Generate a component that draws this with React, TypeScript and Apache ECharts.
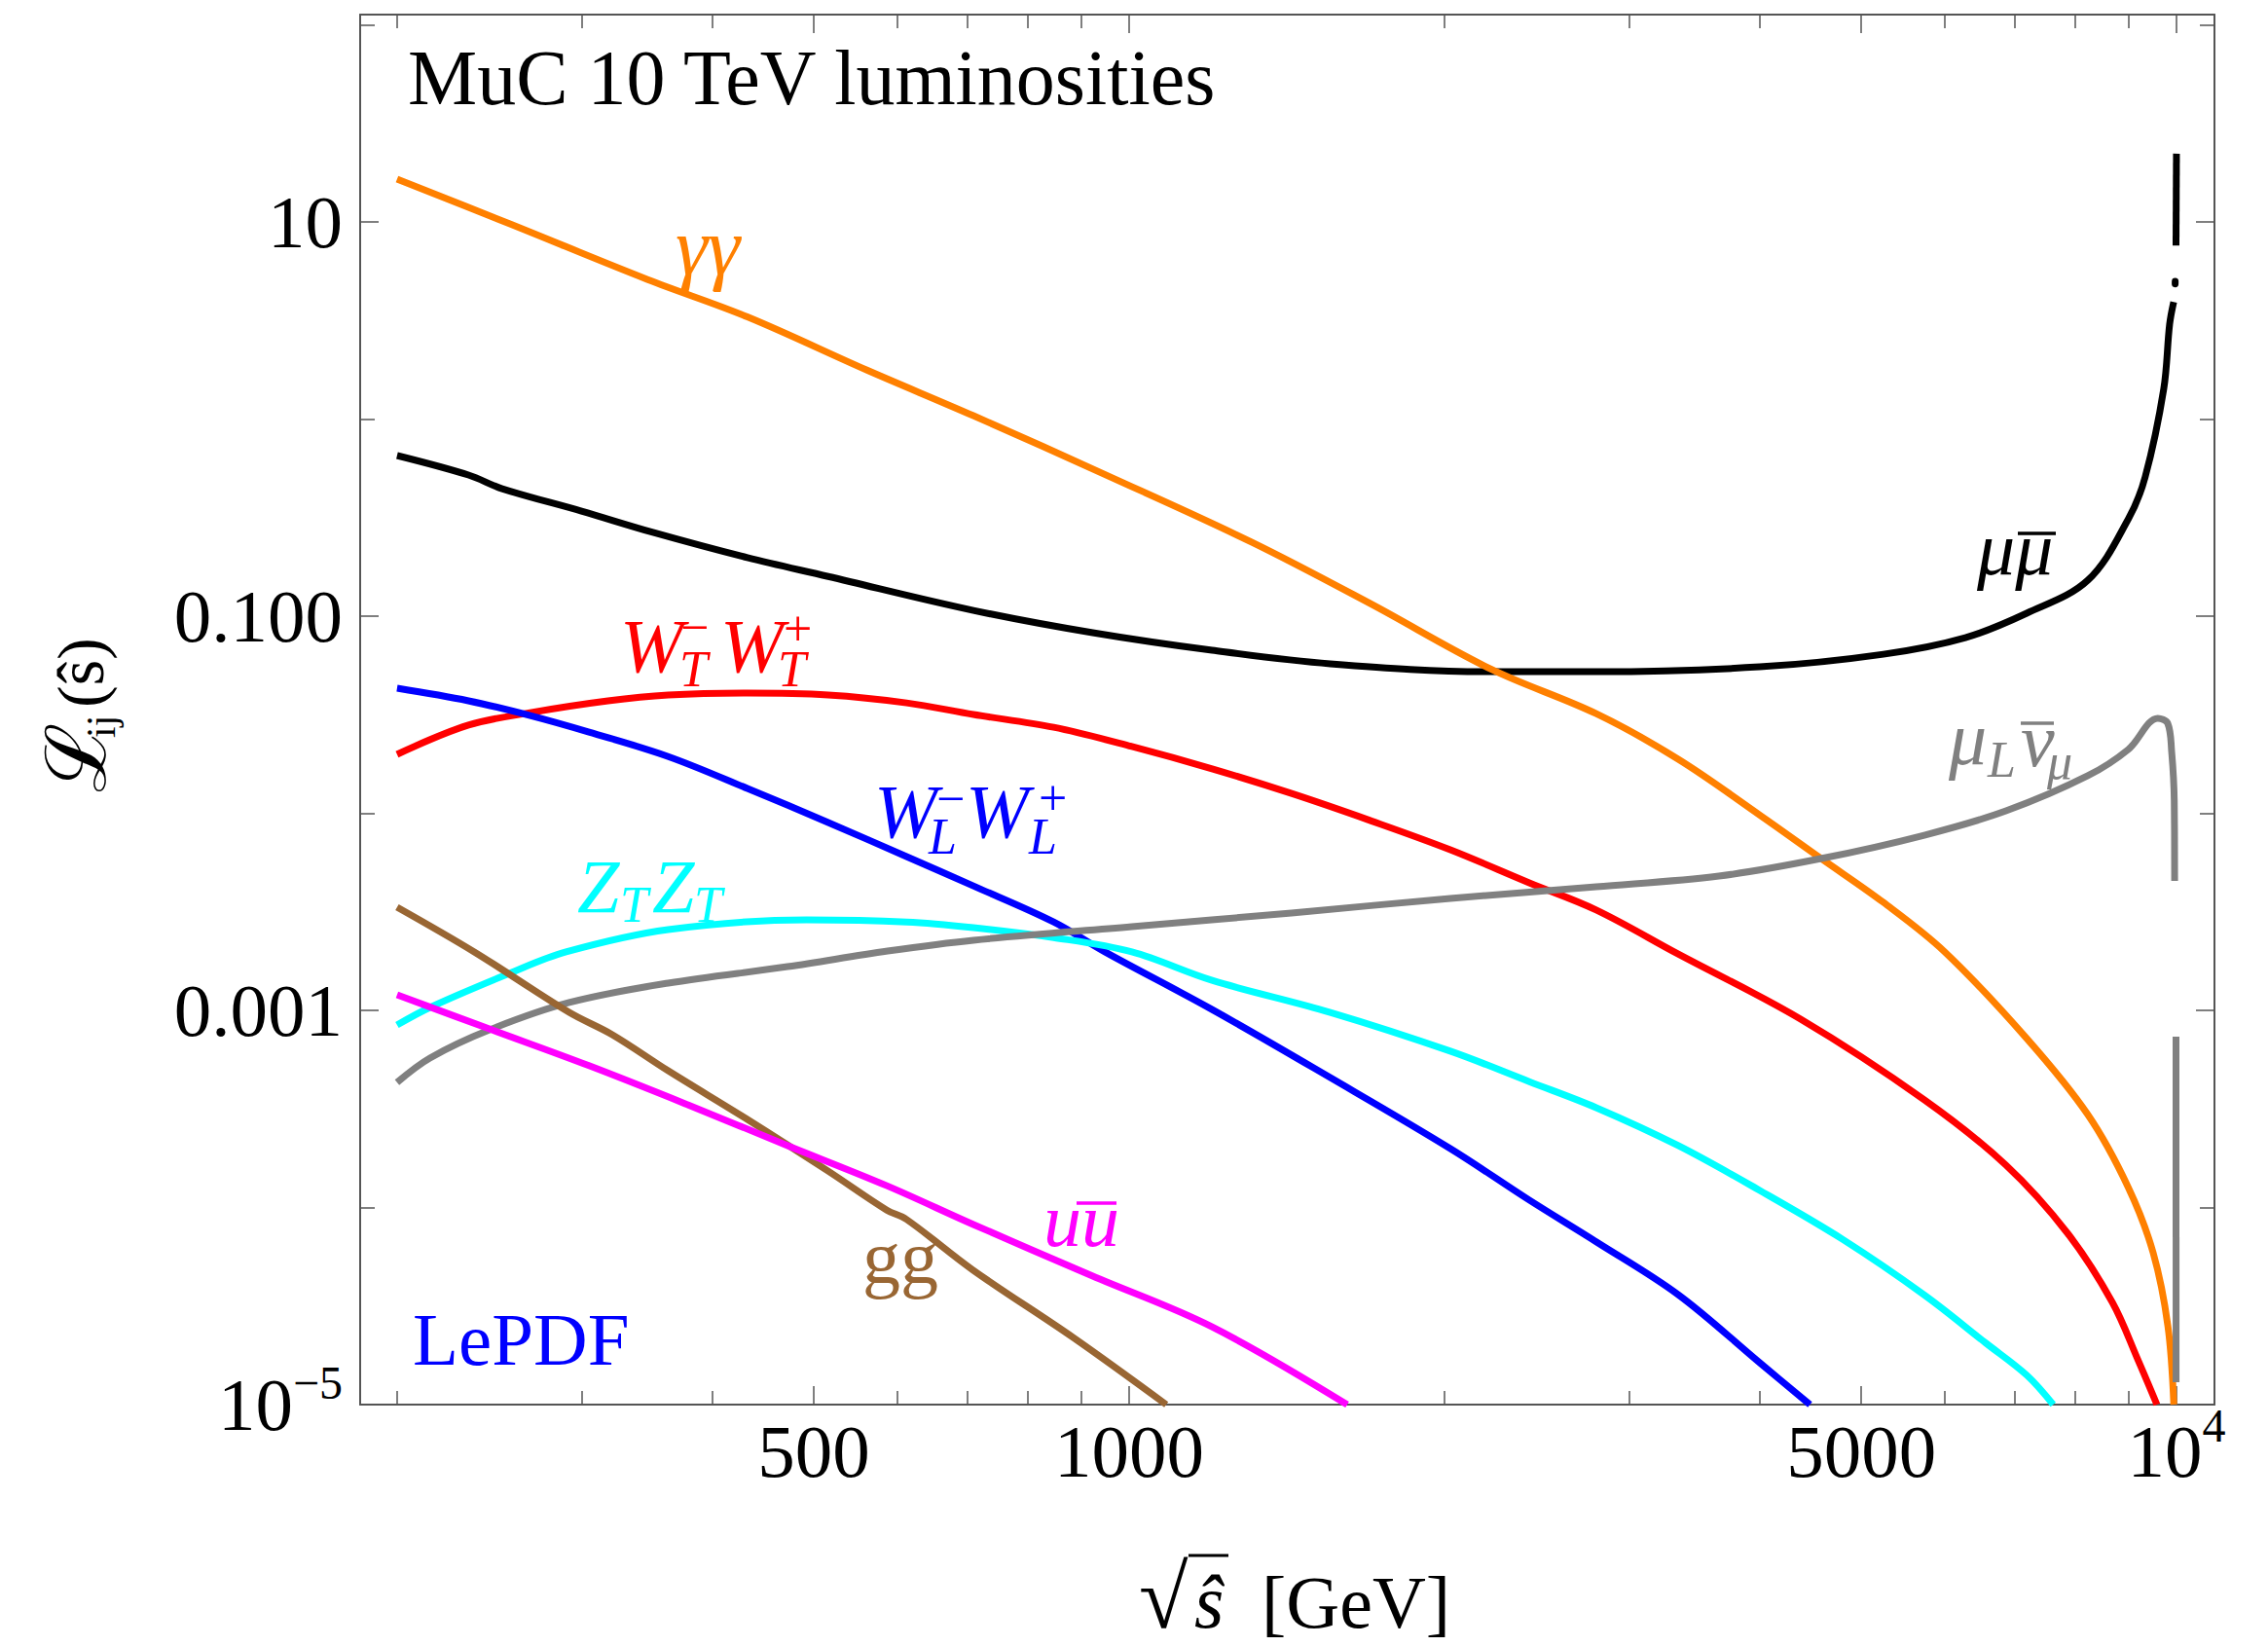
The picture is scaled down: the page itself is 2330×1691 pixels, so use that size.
import React, { useEffect, useRef } from 'react';
import * as echarts from 'echarts';

// ---------- data (sqrt(s) in GeV, luminosity values) ----------
const gammaX = [200, 256, 347, 432, 562, 710, 960, 1310, 1698, 2213, 2792, 3344, 4000, 4577, 5250, 6008, 7194, 8227, 8996, 9498, 9812, 9940];
const gammaY = [16.5, 9.8, 5.1, 3.3, 1.77, 1.04, 0.508, 0.237, 0.116, 0.054, 0.032, 0.0188, 0.0098, 0.0059, 0.00353, 0.00198, 0.00072, 0.000296, 0.000126, 5.9e-5, 2.5e-5, 1e-5];

const muMuX = [200, 234, 252, 300, 351, 432, 516, 710, 923, 1200, 1556, 2212, 2792, 4000, 5250, 6286, 7194, 8227, 8996, 9333, 9722, 9849, 9937];
const muMuY = [0.653, 0.52, 0.443, 0.341, 0.266, 0.198, 0.159, 0.107, 0.0824, 0.0671, 0.0573, 0.0523, 0.0523, 0.0553, 0.0641, 0.0778, 0.1035, 0.152, 0.312, 0.508, 1.42, 3.03, 3.93];
const muMuDotX = [9969, 9970];
const muMuDotY = [4.85, 5.0];
const muMuTopX = [9988, 9998];
const muMuTopY = [7.6, 22.2];

const wtX = [200, 234, 268, 318, 363, 432, 516, 613, 710, 847, 1006, 1200, 1429, 1698, 2026, 2410, 2792, 3344, 4376, 5743, 6873, 7870, 8684, 9185, 9578];
const wtY = [0.0199, 0.028, 0.0324, 0.0372, 0.0398, 0.0407, 0.0398, 0.0363, 0.0317, 0.0273, 0.0218, 0.0168, 0.0126, 0.0092, 0.00653, 0.00444, 0.00323, 0.00193, 0.000903, 0.000352, 0.000164, 7.4e-5, 3.3e-5, 1.69e-5, 1e-5];

const wlX = [200, 234, 268, 305, 363, 432, 516, 613, 710, 847, 948, 1200, 1556, 2026, 2410, 2792, 3344, 4000, 4467];
const wlY = [0.0431, 0.0372, 0.0313, 0.0258, 0.0194, 0.01336, 0.00898, 0.00603, 0.00428, 0.00281, 0.00198, 0.00101, 0.000456, 0.000199, 0.000109, 6.7e-5, 3.61e-5, 1.63e-5, 1e-5];

const ztX = [200, 215, 256, 290, 363, 492, 613, 710, 847, 1006, 1200, 1556, 2026, 2410, 2792, 3344, 4000, 4798, 5743, 6577, 7194, 7625];
const ztY = [0.000843, 0.001035, 0.00154, 0.00198, 0.00257, 0.00288, 0.00281, 0.00263, 0.00234, 0.00198, 0.00142, 0.000977, 0.000621, 0.000435, 0.000321, 0.000206, 0.000122, 6.9e-5, 3.6e-5, 2.05e-5, 1.41e-5, 1e-5];

const muNuX = [200, 215, 245, 292, 363, 472, 588, 710, 1006, 1429, 2026, 2792, 3656, 4577, 5743, 6873, 8227, 8996, 9596, 9808, 9894, 9950, 9958];
const muNuY = [0.000431, 0.000573, 0.000796, 0.001096, 0.001375, 0.001667, 0.0020, 0.00227, 0.00266, 0.00312, 0.0037, 0.00424, 0.0048, 0.00589, 0.00774, 0.01028, 0.0155, 0.0211, 0.0303, 0.0286, 0.0204, 0.01154, 0.00454];
const muNuTailX = [9988, 9990];
const muNuTailY = [0.000736, 1.3e-5];

const ggX = [200, 237, 292, 321, 363, 432, 516, 587, 613, 710, 883, 1085];
const ggY = [0.00334, 0.00198, 0.000977, 0.000753, 0.000494, 0.00028, 0.000153, 9.7e-5, 8.7e-5, 4.8e-5, 2.2e-5, 1e-5];

const uuX = [200, 245, 305, 379, 472, 587, 710, 922, 1200, 1615];
const uuY = [0.0012, 0.000805, 0.000524, 0.000332, 0.000206, 0.000129, 8.2e-5, 4.5e-5, 2.48e-5, 1e-5];

// ticks
const xMajorTicks = [500, 1000, 5000, 10000];
const xMinorTicks = [200, 300, 400, 600, 700, 800, 900, 2000, 3000, 4000, 6000, 7000, 8000, 9000];
const yMajorTicks = [10, 0.1, 0.001, 1e-5];
const yMinorTicks = [100, 1, 0.01, 1e-4];

// ---------- styling ----------
const FONT = '"Liberation Serif", "Times New Roman", serif';
const AXIS = '#555';
const ORANGE = '#ff8000';
const RED = '#ff0000';
const BLUE = '#0000ff';
const CYAN = '#00ffff';
const GRAY = '#808080';
const BROWN = '#996633';
const MAGENTA = '#ff00ff';
const LW = 7;

const lg = (v: number) => Math.log10(v);
const X_MIN = 2.2658;
const X_MAX = 4.0362;
const Y_MIN = -5;
const Y_MAX = 2.0519;

function line(xs: number[], ys: number[], color: string, extra: any = {}) {
  return {
    type: 'line',
    xAxisIndex: 0,
    yAxisIndex: 0,
    data: xs.map((x, i) => [lg(x), lg(ys[i])]),
    showSymbol: false,
    symbol: 'none',
    silent: true,
    clip: true,
    smooth: extra.smooth === undefined ? 0.35 : extra.smooth,
    lineStyle: { color, width: LW, join: 'round', ...(extra.lineStyle || {}) },
    itemStyle: { color },
    z: extra.z || 2,
  };
}

function fmtX(v: number) {
  const n = Math.round(Math.pow(10, v));
  if (n === 10000) return '{b|10}{sup|4}';
  return '{b|' + n + '}';
}
function fmtY(v: number) {
  const e = Math.round(v);
  if (e === 1) return '{b|10}';
  if (e === -1) return '{b|0.100}';
  if (e === -3) return '{b|0.001}';
  if (e === -5) return '{b|10}{sup|\u22125}';
  return '';
}

const labelRichX = {
  b: { fontSize: 77, fontFamily: FONT, color: '#000', lineHeight: 77 },
  sup: { fontSize: 48, fontFamily: FONT, color: '#000', lineHeight: 48, padding: [0, 0, 52, 0] },
};
const labelRichY = {
  b: { fontSize: 77, fontFamily: FONT, color: '#000', lineHeight: 77 },
  sup: { fontSize: 48, fontFamily: FONT, color: '#000', lineHeight: 48, padding: [0, 0, 46, 0] },
};

function xAxisDef(position: string, ticks: number[], len: number, showLine: boolean, labels: boolean) {
  return {
    type: 'value',
    position,
    min: X_MIN,
    max: X_MAX,
    axisLine: { show: showLine, onZero: false, lineStyle: { color: AXIS, width: 2 } },
    axisTick: { show: true, inside: true, length: len, customValues: ticks.map(lg), lineStyle: { color: AXIS, width: 1.5 } },
    axisLabel: labels
      ? { show: true, customValues: xMajorTicks.map(lg), formatter: fmtX, margin: 9, rich: labelRichX, fontSize: 77, fontFamily: FONT, color: '#000' }
      : { show: false },
    splitLine: { show: false },
  };
}
function yAxisDef(position: string, ticks: number[], len: number, showLine: boolean, labels: boolean) {
  return {
    type: 'value',
    position,
    min: Y_MIN,
    max: Y_MAX,
    axisLine: { show: showLine, onZero: false, lineStyle: { color: AXIS, width: 2 } },
    axisTick: { show: true, inside: true, length: len, customValues: ticks.map(lg), lineStyle: { color: AXIS, width: 1.5 } },
    axisLabel: labels
      ? { show: true, customValues: yMajorTicks.map(lg), formatter: fmtY, margin: 18, rich: labelRichY, fontSize: 77, fontFamily: FONT, color: '#000' }
      : { show: false },
    splitLine: { show: false },
  };
}

// ---------- annotation helpers (pixel placement, baseline-based) ----------
const CENTRAL = 0.3375;
function T(x: number, base: number, text: string, fs: number, color: string, italic = false) {
  return {
    type: 'text',
    x,
    y: base - CENTRAL * fs,
    z: 100,
    silent: true,
    style: {
      text, fill: color, fontSize: fs, fontFamily: FONT, fontStyle: italic ? 'italic' : 'normal',
      align: 'left', verticalAlign: 'middle', lineHeight: Math.round(fs * 0.9),
    },
  };
}
function TC(x: number, cy: number, text: string, fs: number, color: string) {
  return {
    type: 'text',
    x,
    y: cy,
    z: 100,
    silent: true,
    style: { text, fill: color, fontSize: fs, fontFamily: FONT, align: 'left', verticalAlign: 'middle', lineHeight: Math.round(fs * 0.6) },
  };
}
// rotated (reading bottom-to-top) piece: starts at screen y = yStart, baseline at screen x = baseX
function TR(baseX: number, yStart: number, text: string, fs: number, extra: any = {}) {
  return {
    type: 'text',
    x: baseX - CENTRAL * fs,
    y: yStart,
    rotation: Math.PI / 2,
    scaleX: extra.scaleX || 1,
    z: 100,
    silent: true,
    style: {
      text, fill: '#000', fontSize: fs, fontFamily: FONT, fontStyle: extra.italic ? 'italic' : 'normal',
      align: 'left', verticalAlign: 'middle', lineHeight: Math.round(fs * 0.9),
    },
  };
}
function OL(x1: number, x2: number, y: number, color: string, w = 3.5) {
  return { type: 'line', z: 100, silent: true, shape: { x1, y1: y, x2, y2: y }, style: { stroke: color, lineWidth: w } };
}

const graphics: any[] = [
  T(419, 107, 'MuC 10 TeV luminosities', 80, '#000'),
  T(424, 1402, 'LePDF', 77, BLUE),
  // gamma gamma
  T(694, 282, '\u03b3\u03b3', 84, ORANGE, true),
  // mu mubar
  T(2031, 590, '\u03bc\u03bc', 78, '#000', true),
  OL(2073, 2112, 548, '#000'),
  // W_T^- W_T^+
  T(637, 690, 'W', 78, RED, true),
  T(698, 705, 'T', 52, RED, true),
  TC(699, 644, '\u2212', 52, RED),
  T(740, 690, 'W', 78, RED, true),
  T(799, 705, 'T', 52, RED, true),
  TC(805, 645, '+', 52, RED),
  // W_L^- W_L^+
  T(898, 860, 'W', 78, BLUE, true),
  T(954, 877, 'L', 52, BLUE, true),
  TC(962, 820, '\u2212', 52, BLUE),
  T(992, 860, 'W', 78, BLUE, true),
  T(1057, 877, 'L', 52, BLUE, true),
  TC(1067, 819, '+', 52, BLUE),
  // Z_T Z_T
  T(593, 937, 'Z', 78, CYAN, true),
  T(637, 947, 'T', 52, CYAN, true),
  T(670, 937, 'Z', 78, CYAN, true),
  T(713, 947, 'T', 52, CYAN, true),
  // mu_L nubar_mu
  T(2002, 785, '\u03bc', 78, GRAY, true),
  T(2042, 798, 'L', 52, GRAY, true),
  T(2076, 787, '\u03bd', 78, GRAY, true),
  OL(2076, 2110, 743, GRAY),
  T(2103, 800, '\u03bc', 52, GRAY, true),
  // gg
  T(886, 1318, 'gg', 78, BROWN),
  // u ubar
  T(1072, 1280, 'uu', 78, MAGENTA, true),
  OL(1106, 1147, 1236, MAGENTA),
  // x axis title
  T(1170, 1672, '\u221a', 92, '#000'),
  OL(1221, 1262, 1598, '#000', 3),
  T(1227, 1672, '\u015d', 78, '#000', true),
  T(1296, 1672, '[GeV]', 76, '#000'),
  // y axis title (rotated pieces)
  TR(108, 814, '\u2112', 86),
  TR(118, 758, 'ij', 42),
  TR(106, 727, '(\u015d)', 68),
];

const option: any = {
  animation: false,
  backgroundColor: '#ffffff',
  grid: { left: 370, right: 55, top: 15, bottom: 248, show: false, containLabel: false, outerBoundsMode: 'none' },
  xAxis: [
    xAxisDef('bottom', xMajorTicks, 19, true, true),
    xAxisDef('top', xMajorTicks, 19, true, false),
    xAxisDef('bottom', xMinorTicks, 14, false, false),
    xAxisDef('top', xMinorTicks, 14, false, false),
  ],
  yAxis: [
    yAxisDef('left', yMajorTicks, 19, true, true),
    yAxisDef('right', yMajorTicks, 19, true, false),
    yAxisDef('left', yMinorTicks, 15, false, false),
    yAxisDef('right', yMinorTicks, 15, false, false),
  ],
  series: [
    line(muMuX, muMuY, '#000'),
    line(muMuDotX, muMuDotY, '#000', { lineStyle: { cap: 'round' }, smooth: false }),
    line(muMuTopX, muMuTopY, '#000', { smooth: false }),
    line(gammaX, gammaY, ORANGE),
    line(wtX, wtY, RED),
    line(wlX, wlY, BLUE),
    line(ztX, ztY, CYAN),
    line(muNuX, muNuY, GRAY),
    line(muNuTailX, muNuTailY, GRAY, { smooth: false }),
    line(ggX, ggY, BROWN),
    line(uuX, uuY, MAGENTA),
  ],
  graphic: graphics,
};

export default function App() {
  const ref = useRef<HTMLDivElement>(null);
  useEffect(() => {
    const chart = echarts.init(ref.current as HTMLDivElement, null, { renderer: 'svg' });
    chart.setOption(option);
    return () => chart.dispose();
  }, []);
  return (
    <div
      ref={ref}
      style={{ position: 'fixed', left: 0, top: 0, width: 2330, height: 1691, background: '#fff' }}
    />
  );
}
